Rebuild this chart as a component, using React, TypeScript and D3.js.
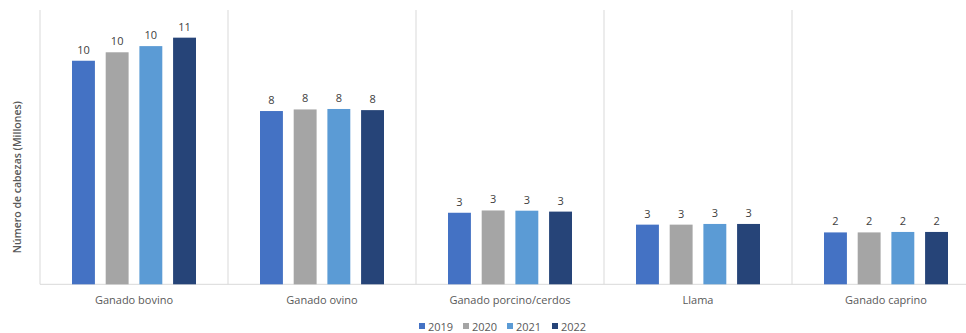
import React from "react";
import * as d3 from "d3";

const categories = ["Ganado bovino", "Ganado ovino", "Ganado porcino/cerdos", "Llama", "Ganado caprino"];
const years = ["2019", "2020", "2021", "2022"];
const values2019 = [9.78, 7.58, 3.13, 2.61, 2.27];
const values2020 = [10.15, 7.65, 3.23, 2.61, 2.27];
const values2021 = [10.42, 7.67, 3.22, 2.64, 2.29];
const values2022 = [10.79, 7.62, 3.18, 2.64, 2.29];
const seriesValues = [values2019, values2020, values2021, values2022];
const colors = ["#4472C4", "#A5A5A5", "#5B9BD5", "#264478"];

const W = 966;
const H = 333;
const left = 40;
const right = 980;
const top = 10;
const bottom = 284.3;
const font = "'Open Sans', 'Liberation Sans', sans-serif";

export default function App() {
  const x0 = d3.scaleBand<string>().domain(categories).range([left, right]).paddingInner(0).paddingOuter(0);
  const groupPad = 32;
  const x1 = d3
    .scaleBand<string>()
    .domain(years)
    .range([groupPad, x0.bandwidth() - groupPad])
    .paddingInner(0.32)
    .paddingOuter(0);
  const y = d3.scaleLinear().domain([0, 12]).range([bottom, top]);

  const legendX = [419, 463, 507, 552];

  return (
    <svg
      width={W}
      height={H}
      style={{ position: "absolute", left: 0, top: 0, background: "#fff" }}
      fontFamily={font}
    >
      {/* vertical separators */}
      {categories.map((c, i) => (
        <line key={"sep" + i} x1={x0(c)!} x2={x0(c)!} y1={top} y2={bottom} stroke="#d9d9d9" strokeWidth={1} />
      ))}
      <line x1={right} x2={right} y1={top} y2={bottom} stroke="#d9d9d9" />
      {/* baseline */}
      <line x1={left} x2={right} y1={bottom} y2={bottom} stroke="#d9d9d9" strokeWidth={1} />

      {categories.map((c, ci) => (
        <g key={c} transform={`translate(${x0(c)},0)`}>
          {years.map((yr, si) => {
            const v = seriesValues[si][ci];
            const bx = x1(yr)!;
            return (
              <g key={yr}>
                <rect x={bx} y={y(v)} width={x1.bandwidth()} height={bottom - y(v)} fill={colors[si]} />
                <text
                  x={bx + x1.bandwidth() / 2}
                  y={y(v) - 7}
                  textAnchor="middle"
                  fontSize={11}
                  fill="#404040"
                >
                  {Math.round(v)}
                </text>
              </g>
            );
          })}
          <text x={x0.bandwidth() / 2} y={304} textAnchor="middle" fontSize={11} fill="#595959">
            {c}
          </text>
        </g>
      ))}

      {/* y axis title */}
      <text
        transform={`translate(21,${(top + bottom) / 2 + 30}) rotate(-90)`}
        textAnchor="middle"
        fontSize={10.5}
        fontWeight={600}
        fill="#595959"
      >
        Número de cabezas (Millones)
      </text>

      {/* legend */}
      {years.map((yr, i) => (
        <g key={"lg" + yr}>
          <rect x={legendX[i]} y={323} width={6} height={6} fill={colors[i]} />
          <text x={legendX[i] + 9} y={330.5} fontSize={11} fill="#595959">
            {yr}
          </text>
        </g>
      ))}
    </svg>
  );
}
